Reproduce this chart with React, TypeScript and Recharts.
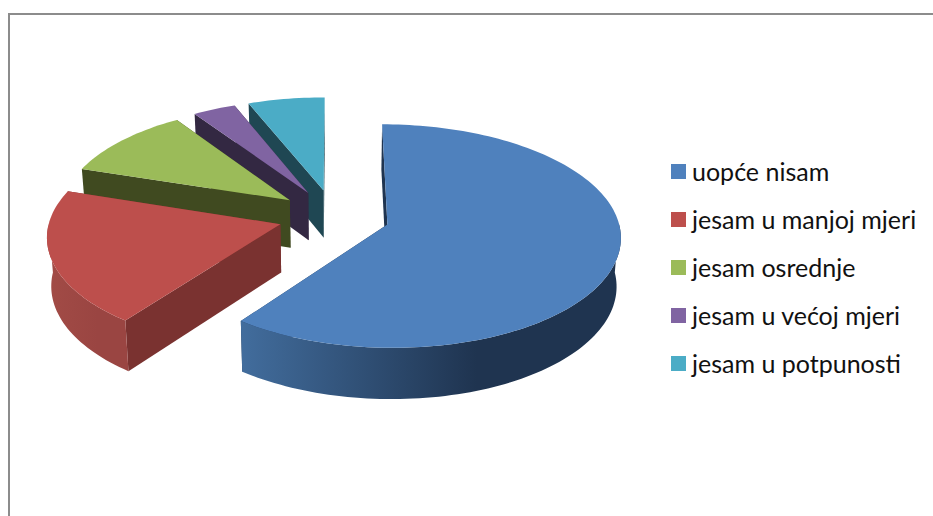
import React from "react";
import { PieChart, Pie, Legend } from "recharts";

const categories = ["uopće nisam", "jesam u manjoj mjeri", "jesam osrednje", "jesam u većoj mjeri", "jesam u potpunosti"];
const values = [60.3, 19.6, 10.6, 3.4, 6.1];
const topColors = ["#4f81bd", "#bd4f4c", "#9bbb59", "#8064a2", "#4bacc6"];
const faceColors = ["#1f3450", "#7a3230", "#404a20", "#332842", "#1f4753"];
const wallStart = ["#426d9d", "#a24b46", "#5c7033", "#4d3c61", "#2d6776"];
const wallEnd = ["#1f3450", "#9a4542", "#404a20", "#332842", "#1f4753"];

// Drawn back to front: the pie turns counter-clockwise from 12 o'clock, last category first.
const table = categories
  .map((name, i) => ({ name, value: values[i], fill: topColors[i], colorIndex: i }))
  .reverse();

const EXPLODE = 0.243;
const TILT_A = 110 / 230;
const TILT_B = 11.5 / 230;
const PERSPECTIVE = 0.1;
const DEPTH = 48;
const DEPTH_GROW = 3;
const BOTTOM_SHRINK = 0.985;

function Slice(props: any) {
  const { cx, cy, outerRadius: R, startAngle, endAngle, fill } = props;
  const idx = props.colorIndex ?? props.payload?.colorIndex ?? 0;
  const rad = (a: number) => (a * Math.PI) / 180;
  const mid = (startAngle + endAngle) / 2;
  const ex = EXPLODE * Math.cos(rad(mid));
  const ey = -EXPLODE * Math.sin(rad(mid));
  const project = (X: number, Y: number, down: boolean): [number, number] => [
    cx + R * X * (1 + PERSPECTIVE * Y) * (down ? BOTTOM_SHRINK : 1),
    cy + R * Y * (TILT_A + TILT_B * Y) + (down ? DEPTH + DEPTH_GROW * Y : 0),
  ];
  const n = Math.max(2, Math.ceil(Math.abs(endAngle - startAngle) / 1.5));
  const angles: number[] = [];
  for (let i = 0; i <= n; i++) angles.push(rad(startAngle + ((endAngle - startAngle) * i) / n));
  const point = (a: number, down: boolean) => project(ex + Math.cos(a), ey - Math.sin(a), down);
  const toPath = (pts: [number, number][]) =>
    "M" + pts.map((p) => `${p[0].toFixed(2)},${p[1].toFixed(2)}`).join("L") + "Z";
  const apexTop = project(ex, ey, false);
  const apexBottom = project(ex, ey, true);
  const topArc = angles.map((a) => point(a, false));
  // Only the part of the rim that faces the viewer gets a wall.
  const front = angles.filter((a) => Math.sin(a) <= 0.02);
  const first = angles[0];
  const last = angles[angles.length - 1];
  const gid = `wall-${idx}`;
  const face = (a: number) => toPath([apexTop, point(a, false), point(a, true), apexBottom]);
  return (
    <g>
      <defs>
        <linearGradient id={gid} x1="0" x2="1" y1="0" y2="0">
          <stop offset="0" stopColor={wallStart[idx]} />
          <stop offset="0.62" stopColor={wallEnd[idx]} />
          <stop offset="1" stopColor={wallEnd[idx]} />
        </linearGradient>
      </defs>
      <path d={face(first)} fill={faceColors[idx]} />
      <path d={face(last)} fill={faceColors[idx]} />
      {front.length > 1 && (
        <path
          d={toPath([...front.map((a) => point(a, false)), ...[...front].reverse().map((a) => point(a, true))])}
          fill={`url(#${gid})`}
        />
      )}
      <path d={toPath([apexTop, ...topArc])} fill={fill} />
    </g>
  );
}

function LegendList(props: any) {
  const items = [...(props.payload ?? [])].sort(
    (a: any, b: any) => categories.indexOf(a.value) - categories.indexOf(b.value),
  );
  return (
    <div>
      {items.map((item: any) => (
        <div key={item.value} style={{ display: "flex", alignItems: "center", height: 48 }}>
          <span style={{ width: 15, height: 15, background: item.color, marginRight: 6, flex: "none" }} />
          <span style={{ fontFamily: "Lato, sans-serif", fontSize: 25, color: "#111", whiteSpace: "nowrap" }}>
            {item.value}
          </span>
        </div>
      ))}
    </div>
  );
}

export default function App() {
  return (
    <div style={{ position: "absolute", left: 0, top: 0, width: 933, height: 516, overflow: "hidden", background: "#fff" }}>
      <div
        style={{
          position: "absolute",
          left: 8,
          top: 13,
          width: 925,
          height: 503,
          borderTop: "2px solid #8c8c8c",
          borderLeft: "2px solid #8c8c8c",
          boxSizing: "border-box",
        }}
      />
      <PieChart width={933} height={516} style={{ position: "absolute", left: 0, top: 0 }}>
        <Pie
          data={table}
          dataKey="value"
          nameKey="name"
          cx={329}
          cy={211}
          innerRadius={0}
          outerRadius={230}
          startAngle={90}
          endAngle={450}
          stroke="none"
          isAnimationActive={false}
          shape={Slice}
          inactiveShape={Slice}
          activeShape={Slice}
        />
        <Legend
          content={LegendList}
          layout="vertical"
          wrapperStyle={{ position: "absolute", left: 671, top: 147, width: 260, bottom: "auto", right: "auto" }}
        />
      </PieChart>
    </div>
  );
}
